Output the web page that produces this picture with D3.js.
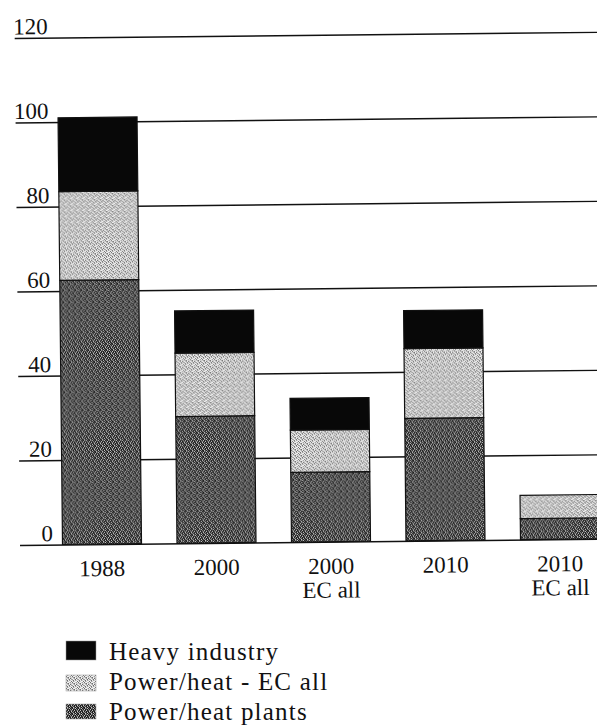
<!DOCTYPE html>
<html>
<head>
<meta charset="utf-8">
<script src="https://cdn.jsdelivr.net/npm/d3@7"></script>
<style>
  html, body { margin: 0; padding: 0; background: #fff; }
  svg { display: block; }
  text { font-family: "Liberation Serif", "DejaVu Serif", serif; fill: #111; }
</style>
</head>
<body>
<svg id="chart" width="597" height="728"></svg>
<script>
// ---- data ----
const categories = ["1988", "2000", "2000|EC all", "2010", "2010|EC all"];
const powerHeatPlants = [62.5, 30, 16.5, 29, 5];
const powerHeatEC = [21, 15, 10, 16.5, 5.5];
const heavyIndustry = [17.5, 10, 7.5, 9, 0];
const seriesKeys = ["plants", "ec", "heavy"];
const seriesLabels = ["Power/heat plants", "Power/heat - EC all", "Heavy industry"];
const yTicks = [0, 20, 40, 60, 80, 100, 120];

const rows = categories.map((c, i) => ({
  cat: c, plants: powerHeatPlants[i], ec: powerHeatEC[i], heavy: heavyIndustry[i]
}));

const svg = d3.select("#chart");
const defs = svg.append("defs");

// halftone-like textures (style only)
function makePattern(id, grid, palette) {
  const n = grid.length;
  const p = defs.append("pattern").attr("id", id)
    .attr("patternUnits", "userSpaceOnUse").attr("width", n).attr("height", n);
  grid.forEach((row, r) => row.split("").forEach((ch, c) => {
    p.append("rect").attr("x", c).attr("y", r).attr("width", 1).attr("height", 1)
      .attr("fill", palette[ch]);
  }));
}
makePattern("pLight", [
  "WLMWDL",
  "MWLDWM",
  "LDWMLW",
  "WMLWWD",
  "DWWLMW",
  "LMDWLL"
], { W: "#f2f2f2", L: "#cdcdcd", M: "#9e9e9e", D: "#6e6e6e" });
makePattern("pDark", [
  "KMGWKG",
  "WKGKMK",
  "GKWKGM",
  "KMKGKW",
  "MGKWKG",
  "KWGKMK"
], { K: "#1c1c1c", G: "#4c4c4c", M: "#8c8c8c", W: "#c8c8c8" });
const fills = { plants: "url(#pDark)", ec: "url(#pLight)", heavy: "#080808" };

const x = d3.scaleBand().domain(categories).range([44.75, 617.25])
  .paddingInner(0.31).paddingOuter(0.155);
const y = d3.scaleLinear().domain([0, 120]).range([542, 35]);

const g = svg.append("g").attr("transform", "rotate(-0.6, 300, 542)");

// gridlines + tick labels
const yAxis = d3.axisLeft(y).tickValues(yTicks).tickSize(0).tickFormat(d3.format("d"));
const ya = g.append("g").call(yAxis);
ya.select(".domain").remove();
ya.selectAll(".tick text")
  .attr("x", 53).attr("dy", -4).attr("dominant-baseline", "auto")
  .attr("text-anchor", "end")
  .style("font-family", "'Liberation Serif', serif").style("font-size", "23px").attr("fill", "#111");
ya.selectAll(".tick").append("line")
  .attr("x1", 20).attr("x2", 640).attr("stroke", "#111").attr("stroke-width", 1.4);

// stacked bars
const stack = d3.stack().keys(seriesKeys)(rows);
g.append("g").selectAll("g").data(stack).join("g")
  .attr("fill", d => fills[d.key])
  .selectAll("rect").data(d => d.filter(s => s[1] - s[0] > 0)).join("rect")
  .attr("x", d => x(d.data.cat))
  .attr("width", x.bandwidth())
  .attr("y", d => y(d[1]))
  .attr("height", d => y(d[0]) - y(d[1]))
  .attr("stroke", "#111").attr("stroke-width", 1.2);

// category labels
const xl = g.append("g").selectAll("text").data(categories).join("text")
  .attr("text-anchor", "middle")
  .attr("transform", d => `translate(${x(d) + x.bandwidth() / 2}, 574)`)
  .style("font-size", "23px");
xl.selectAll("tspan").data(d => d.split("|")).join("tspan")
  .attr("x", 0).attr("dy", (t, i) => i === 0 ? 0 : 24).text(t => t);

// legend
const legendItems = [
  { key: "heavy", label: seriesLabels[2], y: 641, h: 19, ty: 660 },
  { key: "ec", label: seriesLabels[1], y: 675, h: 16, ty: 690 },
  { key: "plants", label: seriesLabels[0], y: 704, h: 15, ty: 720 }
];
const lg = svg.append("g");
lg.selectAll("rect").data(legendItems).join("rect")
  .attr("x", 66).attr("width", 30).attr("y", d => d.y).attr("height", d => d.h)
  .attr("fill", d => fills[d.key]).attr("stroke", "#999").attr("stroke-width", 0.5);
lg.selectAll("text").data(legendItems).join("text")
  .attr("x", 109).attr("y", d => d.ty).text(d => d.label)
  .style("font-size", "25px").style("letter-spacing", "1.2px");
</script>
</body>
</html>
